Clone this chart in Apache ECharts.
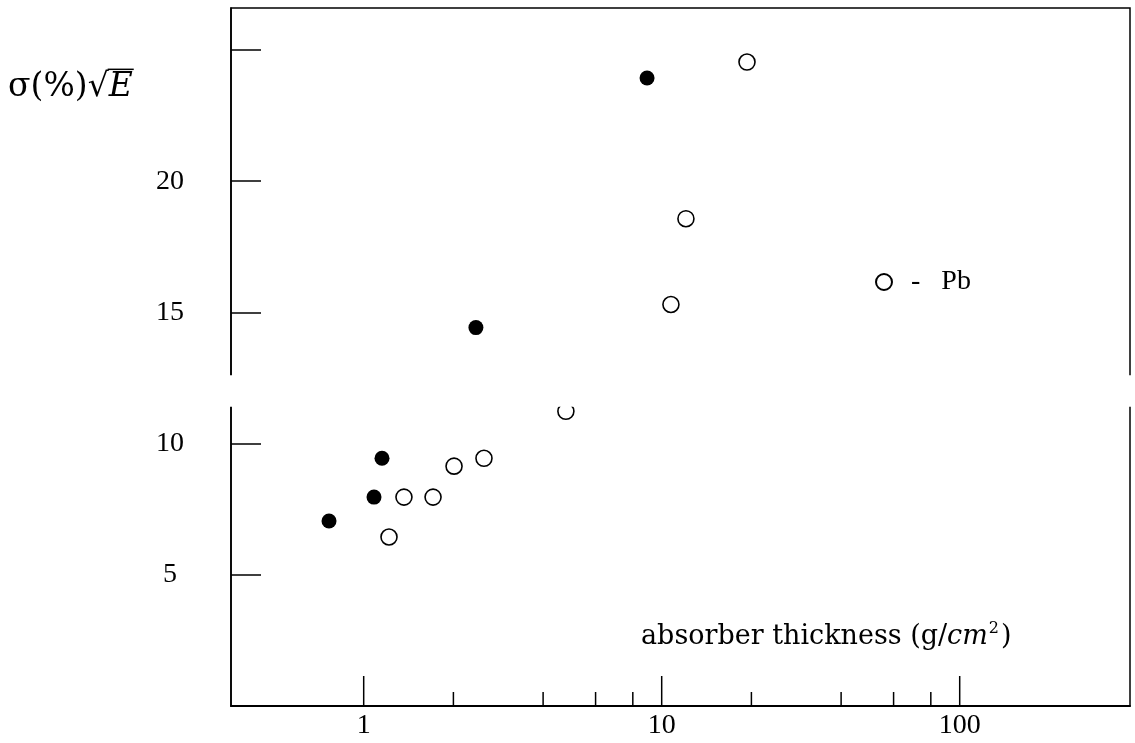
<!DOCTYPE html>
<html>
<head>
<meta charset="utf-8">
<script src="https://cdn.jsdelivr.net/npm/echarts@6/dist/echarts.min.js"></script>
<style>
html,body{margin:0;padding:0;background:#fff;}
#chart{width:1135px;height:743px;}
</style>
</head>
<body>
<div id="chart"></div>
<script>
// ---- data ----
// filled points: [absorber thickness g/cm^2, sigma(%)*sqrt(E)]
const filledX = [0.765, 1.083, 1.152, 2.38, 8.93];
const filledY = [7.05, 7.96, 9.44, 14.42, 23.93];
// open circles: Pb
const pbX = [1.216, 1.365, 1.709, 2.01, 2.533, 4.77, 10.74, 12.06, 19.33];
const pbY = [6.44, 7.96, 7.96, 9.14, 9.44, 11.23, 15.30, 18.57, 24.54];
// axis ticks
const xMajorTicks = [1, 10, 100];
const xMinorTicks = [2, 4, 6, 8, 20, 40, 60, 80];
const yTickLabels = [5, 10, 15, 20];
// visual break in the plot (value range that is blanked out)
const breakRange = [11.4, 12.6];

const X_MIN = 0.3587, X_MAX = 372.8, Y_MIN = 0, Y_MAX = 26.6;

const serif = '"Liberation Serif", "Times New Roman", serif';
const wideSerif = '"DejaVu Serif", serif';

const chart = echarts.init(document.getElementById('chart'));

const tickData = xMajorTicks.map(v => [v, Y_MIN, 1]).concat(xMinorTicks.map(v => [v, Y_MIN, 0]));

// measure y-title pieces to place the square-root overline
const TITLE_SIZE = 33, TITLE_X = 8, TITLE_MID = 87;
const mc = document.createElement('canvas').getContext('2d');
mc.font = TITLE_SIZE + 'px ' + wideSerif;
const wHead = mc.measureText('σ(%)').width;
mc.textBaseline = 'middle';
const wRad = mc.measureText('√').width;
const radAsc = mc.measureText('√').actualBoundingBoxAscent;
mc.font = 'italic ' + TITLE_SIZE + 'px ' + wideSerif;
const wE = mc.measureText('E').width;
const olX1 = TITLE_X + wHead + wRad - 1;
const olX2 = TITLE_X + wHead + wRad + wE + 1;
const olY = TITLE_MID - radAsc + 0.75;

const option = {
  backgroundColor: '#fff',
  animation: false,
  grid: {
    left: 231, right: 5, top: 8, bottom: 37,
    show: true, borderColor: '#000', borderWidth: 1.5, backgroundColor: 'transparent'
  },
  xAxis: {
    type: 'log', logBase: 10, min: X_MIN, max: X_MAX,
    axisLine: {show: true, lineStyle: {color: '#000', width: 1.8}},
    axisTick: {show: false},
    splitLine: {show: false},
    minorTick: {show: false},
    axisLabel: {
      show: true, color: '#000', fontFamily: serif, fontSize: 28, margin: 6,
      showMinLabel: false, showMaxLabel: false,
      formatter: function (v) {
        const r = Math.round(v * 1000) / 1000;
        return xMajorTicks.indexOf(r) >= 0 ? String(r) : '';
      }
    }
  },
  yAxis: {
    type: 'value', min: Y_MIN, max: Y_MAX, interval: 5,
    axisLine: {show: true, lineStyle: {color: '#000', width: 1.6}},
    axisTick: {show: true, inside: true, length: 30, lineStyle: {color: '#000', width: 1.5}},
    splitLine: {show: false},
    axisLabel: {
      show: true, color: '#000', fontFamily: serif, fontSize: 28, margin: 61, align: 'center',
      showMinLabel: false, showMaxLabel: false,
      formatter: function (v) { return yTickLabels.indexOf(v) >= 0 ? String(v) : ''; }
    }
  },
  legend: {
    data: ['Pb'],
    left: 870, top: 263,
    itemWidth: 16, itemHeight: 16,
    icon: 'circle',
    formatter: function () { return '  -   Pb'; },
    textStyle: {color: '#000', fontFamily: serif, fontSize: 28, lineHeight: 26}
  },
  series: [
    {
      name: 'filled', type: 'scatter', z: 3,
      symbol: 'circle', symbolSize: 15,
      itemStyle: {color: '#000', opacity: 1},
      data: filledX.map((x, i) => [x, filledY[i]])
    },
    {
      name: 'Pb', type: 'scatter', z: 3,
      symbol: 'circle', symbolSize: 16,
      itemStyle: {color: '#fff', borderColor: '#000', borderWidth: 1.6, opacity: 1},
      data: pbX.map((x, i) => [x, pbY[i]])
    },
    {
      name: 'xticks', type: 'custom', z: 4, clip: false, silent: true,
      data: tickData,
      renderItem: function (params, api) {
        const p = api.coord([api.value(0), api.value(1)]);
        const len = api.value(2) ? 30 : 14;
        return {
          type: 'line',
          shape: {x1: p[0], y1: p[1], x2: p[0], y2: p[1] - len},
          style: {stroke: '#000', lineWidth: 1.5}
        };
      }
    },
    {
      name: 'break', type: 'custom', z: 10, clip: false, silent: true,
      data: [[breakRange[0], breakRange[1]]],
      renderItem: function (params, api) {
        const cs = params.coordSys;
        const top = api.coord([X_MIN, api.value(1)])[1];
        const bot = api.coord([X_MIN, api.value(0)])[1];
        return {
          type: 'rect',
          shape: {x: cs.x - 8, y: top, width: cs.width + 16, height: bot - top},
          style: {fill: '#fff'}
        };
      }
    }
  ],
  graphic: [
    {
      type: 'text', x: TITLE_X, y: TITLE_MID, z: 20,
      style: {
        text: '{a|σ(%)√}{e|E}',
        verticalAlign: 'middle',
        rich: {
          a: {fontFamily: wideSerif, fontSize: TITLE_SIZE, fill: '#000'},
          e: {fontFamily: wideSerif, fontSize: TITLE_SIZE, fontStyle: 'italic', fill: '#000'}
        }
      }
    },
    {
      type: 'line', z: 20,
      shape: {x1: olX1, y1: olY, x2: olX2, y2: olY},
      style: {stroke: '#000', lineWidth: 1.5}
    },
    {
      type: 'text', left: 641, top: 621, z: 20,
      style: {
        text: '{n|absorber thickness (g/}{i|cm}{s|2}{n|)}',
        rich: {
          n: {fontFamily: wideSerif, fontSize: 27, fill: '#000', lineHeight: 32},
          i: {fontFamily: wideSerif, fontSize: 27, fontStyle: 'italic', fill: '#000', lineHeight: 32},
          s: {fontFamily: wideSerif, fontSize: 16, fill: '#000', lineHeight: 32, verticalAlign: 'top', padding: [0, 2, 0, 1]}
        }
      }
    }
  ]
};
chart.setOption(option);
</script>
</body>
</html>
